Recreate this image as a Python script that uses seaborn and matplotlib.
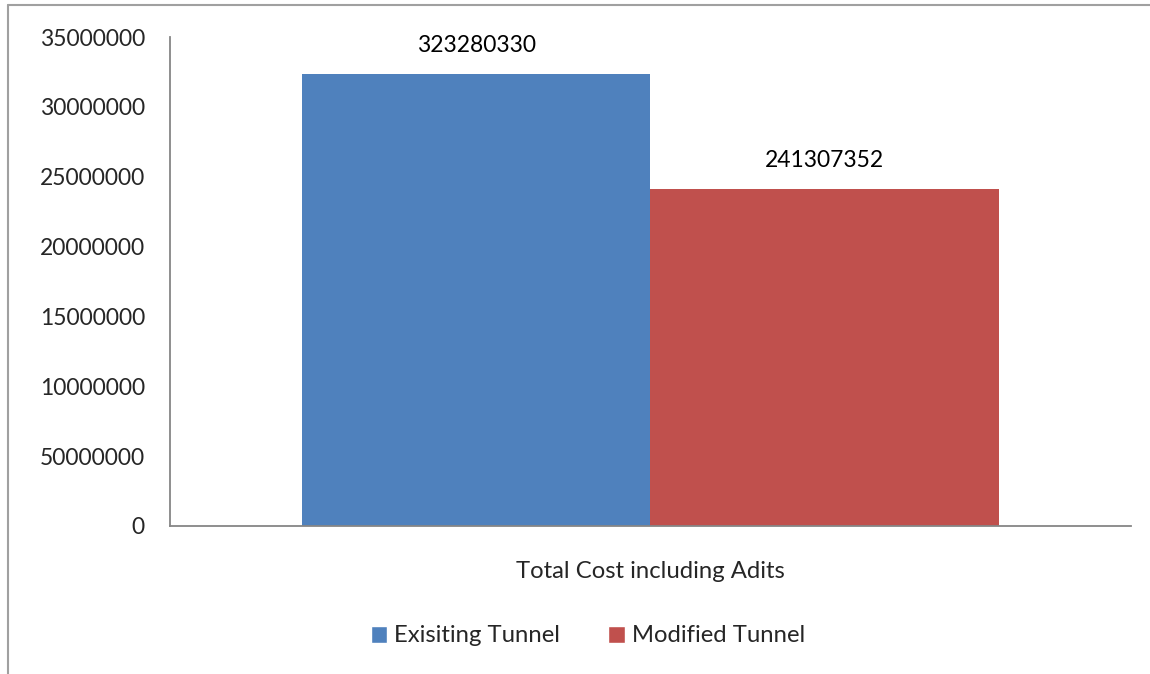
import numpy as np
import pandas as pd
import matplotlib
matplotlib.use("Agg")
import matplotlib.pyplot as plt
import seaborn as sns
from matplotlib.lines import Line2D
from matplotlib.patches import Patch

# data
categories = ["Total Cost including Adits"]
series = ["Exisiting Tunnel", "Modified Tunnel"]
values = [32328033, 24130735]
value_labels = ["323280330", "241307352"]
colors = ["#4f81bd", "#c0504d"]
ytick_values = [0, 5000000, 10000000, 15000000, 20000000, 25000000, 30000000, 35000000]
ytick_labels = ["0", "50000000", "10000000", "15000000", "20000000",
                "25000000", "30000000", "35000000"]

df = pd.DataFrame({
    "category": categories * len(series),
    "series": series,
    "value": values,
})

sns.set_style("white")
plt.rcParams["font.family"] = ["Lato", "DejaVu Sans"]

fig = plt.figure(figsize=(11.5, 6.74), dpi=100)
ax = fig.add_axes([0.1478, 0.2196, 0.8357, 0.7255])

sns.barplot(data=df, x="category", y="value", hue="series",
            palette=colors, width=0.725, saturation=1, linewidth=0,
            ax=ax, legend=False)

for container, lab in zip(ax.containers, value_labels):
    ax.bar_label(container, labels=[lab], padding=13, fontsize=16.5, color="black")

ax.set_ylim(0, 35000000)
ax.set_xlim(-0.5, 0.5)
ax.set_yticks(ytick_values)
ax.set_yticklabels(ytick_labels, fontsize=16.5)
ax.tick_params(axis="x", labelsize=17.2, pad=25, length=0)
ax.tick_params(axis="y", pad=18, length=0)
ax.set_xlabel("")
ax.set_ylabel("")

for side in ["top", "right"]:
    ax.spines[side].set_visible(False)
for side in ["left", "bottom"]:
    ax.spines[side].set_color("#868686")
    ax.spines[side].set_linewidth(1.3)

handles = [Patch(facecolor=c, label=s) for c, s in zip(colors, series)]
fig.legend(handles=handles, loc="center", bbox_to_anchor=(588 / 1150, 1 - 636 / 674),
           ncol=2, frameon=False, fontsize=17.2, handlelength=0.7, handleheight=0.7,
           handletextpad=0.3, columnspacing=2.0)

# outer chart border (only top and left edges visible)
fig.add_artist(Line2D([8 / 1150, 8 / 1150], [0, 1 - 5 / 674], transform=fig.transFigure,
                      color="#a0a0a0", lw=1.5))
fig.add_artist(Line2D([8 / 1150, 1], [1 - 5 / 674, 1 - 5 / 674], transform=fig.transFigure,
                      color="#a0a0a0", lw=1.5))

fig.savefig("out.png", dpi=100)
